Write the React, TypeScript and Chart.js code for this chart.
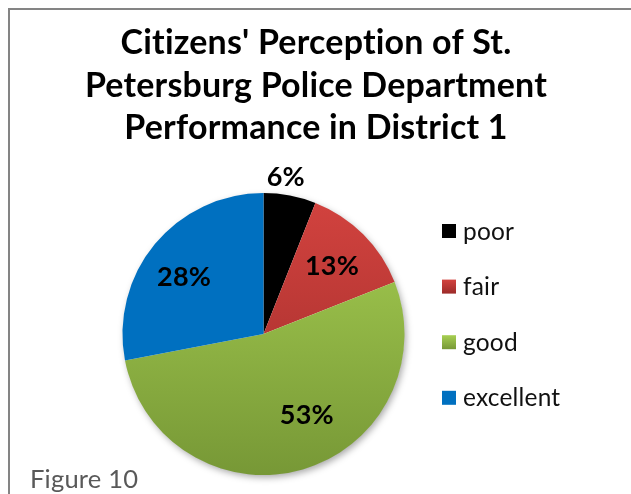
import React, { useEffect, useRef } from "react";
import { Chart, registerables } from "chart.js";

Chart.register(...registerables);

const titleLines = ["Citizens' Perception of St.", "Petersburg Police Department", "Performance in District 1"];
const categories = ["poor", "fair", "good", "excellent"];
const percentValues = [6, 13, 53, 28];
const figureCaption = "Figure 10";

const FONT = "Lato, 'Open Sans', 'DejaVu Sans', sans-serif";

// label placement: [angle nudge in degrees, radius fraction]
const labelPlacement: [number, number][] = [
  [-2.8, 1.133],
  [-0.1, 0.688],
  [-12, 0.65],
  [-3.7, 0.695],
];

function fitSize(ctx: CanvasRenderingContext2D, text: string, targetW: number, weight: string) {
  const base = 30;
  ctx.font = `${weight} ${base}px ${FONT}`;
  const w = ctx.measureText(text).width;
  return (base * targetW) / w;
}

function makeFill(ctx: CanvasRenderingContext2D, idx: number, y0: number, y1: number): string | CanvasGradient {
  if (idx === 0) return "#000000";
  if (idx === 3) return "#0070C0";
  const g = ctx.createLinearGradient(0, y0, 0, y1);
  if (idx === 1) {
    g.addColorStop(0, "#D3433F");
    g.addColorStop(1, "#9C2B29");
  } else {
    g.addColorStop(0, "#A7CF52");
    g.addColorStop(1, "#779836");
  }
  return g;
}

const decorPlugin = {
  id: "decor",
  beforeDraw(chart: any) {
    const ctx = chart.ctx as CanvasRenderingContext2D;
    ctx.save();
    ctx.fillStyle = "#ffffff";
    ctx.fillRect(0, 0, chart.width, chart.height);
    ctx.fillStyle = "#848484";
    ctx.fillRect(8, 8, chart.width - 8, 2);
    ctx.fillRect(8, 8, 2, chart.height - 8);
    ctx.restore();
  },
  beforeDatasetsDraw(chart: any) {
    const meta = chart.getDatasetMeta(0);
    const arc = meta.data[0];
    if (!arc) return;
    const ctx = chart.ctx as CanvasRenderingContext2D;
    ctx.save();
    ctx.shadowColor = "rgba(0,0,0,0.35)";
    ctx.shadowBlur = 7;
    ctx.shadowOffsetX = 2;
    ctx.shadowOffsetY = 3;
    ctx.fillStyle = "#ffffff";
    ctx.beginPath();
    ctx.arc(arc.x, arc.y, arc.outerRadius - 0.5, 0, Math.PI * 2);
    ctx.fill();
    ctx.restore();
  },
  afterDatasetsDraw(chart: any) {
    const ctx = chart.ctx as CanvasRenderingContext2D;
    const meta = chart.getDatasetMeta(0);
    ctx.save();
    (ctx as any).letterSpacing = "0.2px";

    // percentage labels
    const labelSize = fitSize(ctx, "13%", 54, "bold");
    ctx.font = `bold ${labelSize}px ${FONT}`;
    ctx.fillStyle = "#000000";
    ctx.textAlign = "center";
    ctx.textBaseline = "alphabetic";
    meta.data.forEach((arc: any, i: number) => {
      const mid = (arc.startAngle + arc.endAngle) / 2 + (labelPlacement[i][0] * Math.PI) / 180;
      const r = arc.outerRadius * labelPlacement[i][1];
      const x = arc.x + Math.cos(mid) * r;
      const y = arc.y + Math.sin(mid) * r;
      ctx.fillText(percentValues[i] + "%", x, y + labelSize * 0.36);
    });

    // title
    const titleSize = fitSize(ctx, titleLines[1], 463, "bold");
    ctx.font = `bold ${titleSize}px ${FONT}`;
    ctx.fillStyle = "#000000";
    ctx.textAlign = "center";
    const baselines = [54, 96.5, 139];
    titleLines.forEach((t, i) => ctx.fillText(t, 316, baselines[i]));

    // legend
    const legSize = fitSize(ctx, "excellent", 97, "normal");
    ctx.font = `normal ${legSize}px ${FONT}`;
    ctx.textAlign = "left";
    categories.forEach((c, i) => {
      const top = 224 + i * 55.6;
      ctx.fillStyle = makeFill(ctx, i, top, top + 14);
      ctx.fillRect(442, top, 14, 14);
      ctx.fillStyle = "#111111";
      ctx.fillText(c, 463, top + 15.5);
    });

    // caption
    const capSize = fitSize(ctx, figureCaption, 108, "normal");
    ctx.font = `normal ${capSize}px ${FONT}`;
    ctx.fillStyle = "#595959";
    ctx.fillText(figureCaption, 30, 488);

    ctx.restore();
  },
};

export default function App() {
  const canvasRef = useRef<HTMLCanvasElement | null>(null);

  useEffect(() => {
    const canvas = canvasRef.current;
    if (!canvas) return;
    const chart = new Chart(canvas, {
      type: "pie",
      data: {
        labels: categories,
        datasets: [
          {
            data: percentValues,
            borderWidth: 0,
            backgroundColor: (c: any) => {
              const area = c.chart.chartArea;
              if (!area) return "#000";
              return makeFill(c.chart.ctx, c.dataIndex, area.top, area.bottom);
            },
          },
        ],
      },
      options: {
        responsive: false,
        animation: false,
        devicePixelRatio: 1,
        layout: { padding: { left: 122, right: 226, top: 193, bottom: 19 } },
        plugins: {
          legend: { display: false },
          title: { display: false },
          tooltip: { enabled: false },
        },
      },
      plugins: [decorPlugin],
    });
    return () => chart.destroy();
  }, []);

  return (
    <div style={{ position: "fixed", left: 0, top: 0, width: 631, height: 494, background: "#fff" }}>
      <canvas ref={canvasRef} width={631} height={494} style={{ display: "block" }} />
    </div>
  );
}
